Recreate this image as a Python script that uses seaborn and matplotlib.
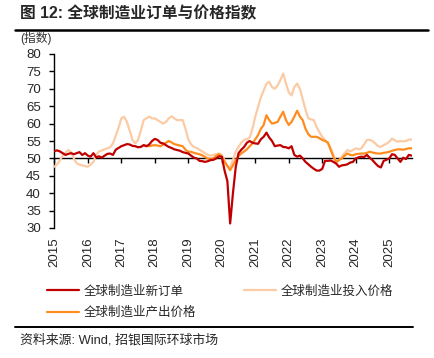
import numpy as np
import pandas as pd
import matplotlib
matplotlib.use("Agg")
import matplotlib.pyplot as plt
import seaborn as sns

# ------------------------
# data (monthly, 2015-01 .. 2025-09)
# ------------------------
start_year = 2015
new_orders = [
    52.1, 52.3, 52.0, 51.5, 51.0, 51.3, 51.5, 51.2, 51.5, 51.8, 51.0, 51.5,
    50.8, 50.5, 51.5, 50.3, 50.6, 50.2, 50.8, 51.3, 51.4, 51.0, 52.5, 53.0,
    53.5, 53.8, 54.1, 54.0, 53.6, 53.5, 53.2, 53.3, 53.8, 53.5, 54.0, 55.0,
    55.6, 55.3, 54.5, 54.3, 53.8, 53.3, 53.0, 52.6, 52.4, 52.2, 51.8, 51.6,
    51.4, 50.8, 50.2, 50.0, 49.3, 49.2, 49.0, 49.2, 49.5, 49.6, 50.0, 50.6,
    50.5, 46.5, 43.5, 31.3, 40.0, 47.5, 51.5, 52.5, 53.3, 54.5, 55.0, 54.5,
    54.3, 54.2, 55.5, 56.2, 57.4, 56.0, 55.0, 53.5, 53.7, 53.8, 53.3, 53.2,
    52.9, 53.5, 51.0, 50.5, 50.8, 50.0, 49.0, 48.3, 47.6, 47.0, 46.5, 46.5,
    47.0, 49.3, 49.3, 49.4, 49.0, 48.5, 47.6, 48.0, 48.1, 48.3, 48.8, 49.0,
    50.0, 50.3, 50.5, 50.4, 51.0, 50.2, 49.5, 48.6, 47.8, 47.4, 49.3, 49.6,
    50.0, 51.2, 51.0, 50.0, 49.0, 50.2, 49.8, 51.0, 50.8,
]
input_prices = [
    47.6, 48.3, 49.5, 50.8, 51.6, 52.4, 51.8, 50.0, 48.6, 48.2, 48.0, 47.8,
    47.6, 48.2, 49.0, 51.0, 52.0, 52.3, 52.6, 52.9, 53.2, 54.3, 56.5, 58.8,
    61.5, 62.0, 60.5, 58.0, 55.3, 54.3, 55.3, 58.0, 61.0, 61.5, 62.0, 61.5,
    61.5, 61.0, 60.5, 60.0, 60.5, 61.5, 62.1, 61.5, 61.0, 61.0, 61.0, 58.5,
    55.5, 54.0, 53.3, 53.0, 52.5, 52.0, 51.5, 51.0, 50.8, 51.0, 51.2, 51.4,
    51.0, 49.5, 47.8, 47.5, 49.5, 52.0, 53.3, 54.5, 55.3, 55.5, 56.0, 58.5,
    62.0, 64.8, 67.5, 69.5, 71.5, 72.0, 70.5, 70.0, 71.0, 72.5, 74.4, 71.5,
    69.0, 68.1, 70.5, 71.5, 70.0, 67.0, 64.0, 61.5, 61.2, 61.0, 59.0, 57.5,
    56.2, 55.3, 54.3, 53.0, 51.0, 48.6, 49.5, 50.5, 51.5, 52.4, 52.0, 52.4,
    52.9, 52.6, 52.9, 54.0, 55.3, 55.3, 55.0, 54.3, 53.5, 53.3, 53.8, 54.2,
    54.8, 55.7, 55.2, 54.8, 55.0, 54.9, 55.0, 55.4, 55.4,
]
# output prices start 2017-09
output_start = 32
output_prices = [
    53.8, 53.6, 53.5, 53.7,
    53.8, 53.7, 53.5, 54.0, 54.5, 55.0, 54.6, 54.1, 53.9, 53.7, 53.5, 52.5,
    51.9, 51.9, 51.6, 51.4, 51.2, 50.9, 50.4, 50.0, 49.7, 50.0, 50.7, 51.2,
    50.5, 49.0, 47.8, 46.6, 48.0, 49.5, 50.7, 51.4, 52.0, 52.6, 53.5, 54.3,
    55.5, 56.7, 58.5, 59.6, 62.4, 61.0, 60.0, 60.2, 60.5, 62.0, 63.4, 61.0,
    59.6, 60.5, 62.0, 63.7, 62.0, 61.0, 58.5, 57.0, 56.2, 56.2, 56.2, 55.8,
    55.3, 55.0, 54.6, 52.5, 50.5, 49.0, 49.5, 50.0, 50.8, 51.4, 51.0, 50.9,
    51.2, 51.3, 51.4, 51.4, 51.6, 51.9, 51.7, 51.5, 51.4, 51.4, 51.6, 51.7,
    51.9, 52.2, 52.4, 52.6, 52.6, 52.5, 52.7, 52.9, 52.9,
]
years = list(range(2015, 2026))
y_ticks = list(range(30, 81, 5))

labels = ["全球制造业新订单", "全球制造业产出价格", "全球制造业投入价格"]
colors = ["#C00000", "#FF8C1E", "#FBCBA5"]

t_all = start_year + np.arange(len(new_orders)) / 12
t_out = start_year + (output_start + np.arange(len(output_prices))) / 12

df = pd.concat([
    pd.DataFrame({"t": t_all, "val": new_orders, "series": labels[0]}),
    pd.DataFrame({"t": t_out, "val": output_prices, "series": labels[1]}),
    pd.DataFrame({"t": t_all, "val": input_prices, "series": labels[2]}),
])

# ------------------------
# plot
# ------------------------
sns.set_style("white")
fonts = ["Liberation Sans", "Noto Sans CJK SC", "DejaVu Sans"]
plt.rcParams["font.family"] = fonts

fig = plt.figure(figsize=(4.34, 3.58), dpi=100)
ax = fig.add_axes([54 / 434, 1 - 228 / 358, 358 / 434, 174 / 358])

# draw input prices first so it sits underneath
order = [labels[2], labels[1], labels[0]]
for name in order:
    sub = df[df["series"] == name]
    sns.lineplot(data=sub, x="t", y="val", ax=ax, color=colors[labels.index(name)],
                 linewidth=1.6, label=name, zorder=3)
if ax.get_legend() is not None:
    ax.get_legend().remove()

ax.set_xlim(2014.99, 2025.68)
ax.set_ylim(30, 80)
ax.set_yticks(y_ticks)
ax.set_xlabel("")
ax.set_ylabel("")

for s in ["top", "right"]:
    ax.spines[s].set_visible(False)
ax.spines["left"].set_color("black")
ax.spines["left"].set_linewidth(1.0)
ax.spines["bottom"].set_position(("data", 50))
ax.spines["bottom"].set_color("black")
ax.spines["bottom"].set_linewidth(1.0)
ax.spines["bottom"].set_zorder(2)

ax.set_xticks(years)
ax.tick_params(axis="x", direction="out", length=3.5, width=1, color="black",
               labelbottom=False, bottom=True)
ax.tick_params(axis="y", direction="out", length=3.5, width=1, color="black",
               labelsize=9.5, pad=6, left=True)

sec = ax.secondary_xaxis("bottom")
sec.set_xticks(years)
sec.set_xticklabels([str(y) for y in years], rotation=90, fontsize=9.5)
sec.tick_params(length=0, pad=6.5)
sec.spines["bottom"].set_visible(False)

# legend
handles, labs = ax.get_legend_handles_labels()
hmap = dict(zip(labs, handles))
leg_order = [labels[0], labels[1], labels[2]]
fig.legend([hmap[l] for l in leg_order], leg_order, ncol=2,
           loc="upper left", bbox_to_anchor=(0.082, 0.235), frameon=False,
           fontsize=9, handlelength=2.6, handletextpad=0.35,
           columnspacing=3.8, labelspacing=0.75)

# titles, rules and notes
fig.text(20 / 434, 1 - 14 / 358, "图 12: 全球制造业订单与价格指数", fontsize=11.3,
         fontweight="bold", va="center", ha="left")
fig.add_artist(plt.Line2D([15 / 434, 428 / 434], [1 - 30 / 358, 1 - 30 / 358],
                          color="black", linewidth=1.8))
fig.text(20 / 434, 1 - 38 / 358, "(指数)", fontsize=8.5, va="center", ha="left",
         color="#333333")
fig.add_artist(plt.Line2D([15 / 434, 413 / 434], [1 - 327 / 358, 1 - 327 / 358],
                          color="black", linewidth=1.4))
fig.text(20 / 434, 1 - 340 / 358, "资料来源: Wind, 招银国际环球市场", fontsize=9.3,
         va="center", ha="left")

fig.savefig("out.png", dpi=100)
